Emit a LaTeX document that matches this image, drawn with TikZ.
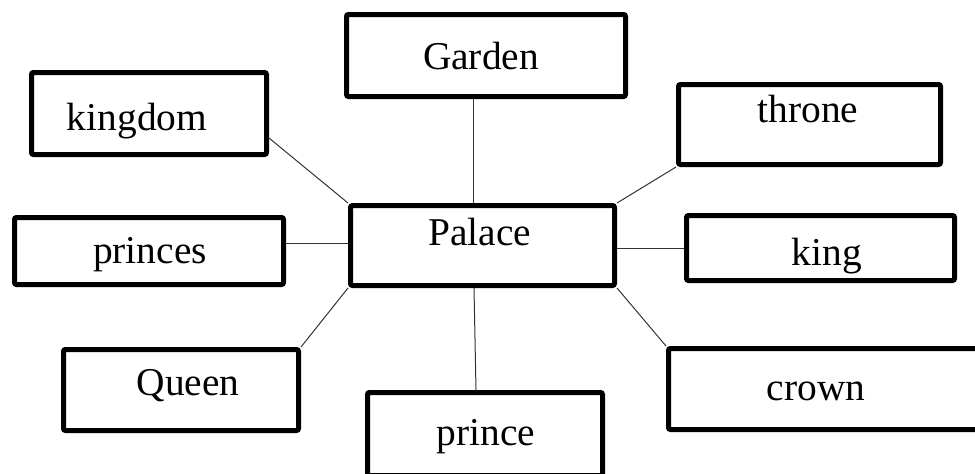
\documentclass[tikz,border=0pt]{standalone}
\usepackage{fontspec}
\setmainfont{Liberation Serif}
\usetikzlibrary{calc}

\tikzset{
  box/.style={draw, line width=2.5pt, rounded corners=1pt, inner sep=0pt},
  word/.style={anchor=base, inner sep=0pt, font=\fontsize{19.7}{24}\selectfont},
  link/.style={black!80, line width=0.5pt}
}

\begin{document}
\begin{tikzpicture}[x=0.5pt,y=-0.5pt]
\useasboundingbox (0,0) rectangle (975,473);

% Boxes
\node [box, minimum width=139.5pt, minimum height=41pt] (garden) at (486,55.5) {};
\node [box, minimum width=117.5pt, minimum height=41pt] (kingdom) at (149,113.5) {};
\node [box, minimum width=131pt, minimum height=40pt] (throne) at (809.5,124.5) {};
\node [box, minimum width=132pt, minimum height=40pt] (palace) at (482.5,245.5) {};
\node [box, minimum width=134.5pt, minimum height=33.5pt] (princes) at (149,251) {};
\node [box, minimum width=134pt, minimum height=32.5pt] (king) at (820.5,248) {};
\node [box, minimum width=117.5pt, minimum height=40.5pt] (queen) at (181,390) {};
\node [box, minimum width=117.5pt, minimum height=41.5pt] (prince) at (485,434) {};
\node [box, minimum width=157pt, minimum height=40.5pt] (crown) at (825.5,389) {};

% Words
\node [word] (garden-t) at (481,69) {Garden};
\node [word] (kingdom-t) at (137,130) {kingdom};
\node [word] (throne-t) at (808,122) {throne};
\node [word] (palace-t) at (480,245) {Palace};
\node [word] (princes-t) at (150,263) {princes};
\node [word] (king-t) at (827,265) {king};
\node [word] (queen-t) at (188,395) {Queen};
\node [word] (prince-t) at (486,445) {prince};
\node [word] (crown-t) at (816,400) {crown};

% Links
\draw [link] ([xshift=-6.5pt]garden.south) -- ([xshift=-4.75pt]palace.north);
\draw [link] ([yshift=-12.25pt]kingdom.east) -- (palace.north west);
\draw [link] (throne.south west) -- (palace.north east);
\draw [link] ([yshift=1.25pt]princes.east |- palace.west) -- ([yshift=1.25pt]palace.west);
\draw [link] ([yshift=-1.25pt]palace.east) -- ([yshift=-1.25pt]king.west |- palace.east);
\draw [link] (queen.north east) -- (palace.south west);
\draw [link] ([xshift=-4.25pt]palace.south) -- ([xshift=-4.5pt]prince.north);
\draw [link] (palace.south east) -- (crown.north west);

\end{tikzpicture}
\end{document}
